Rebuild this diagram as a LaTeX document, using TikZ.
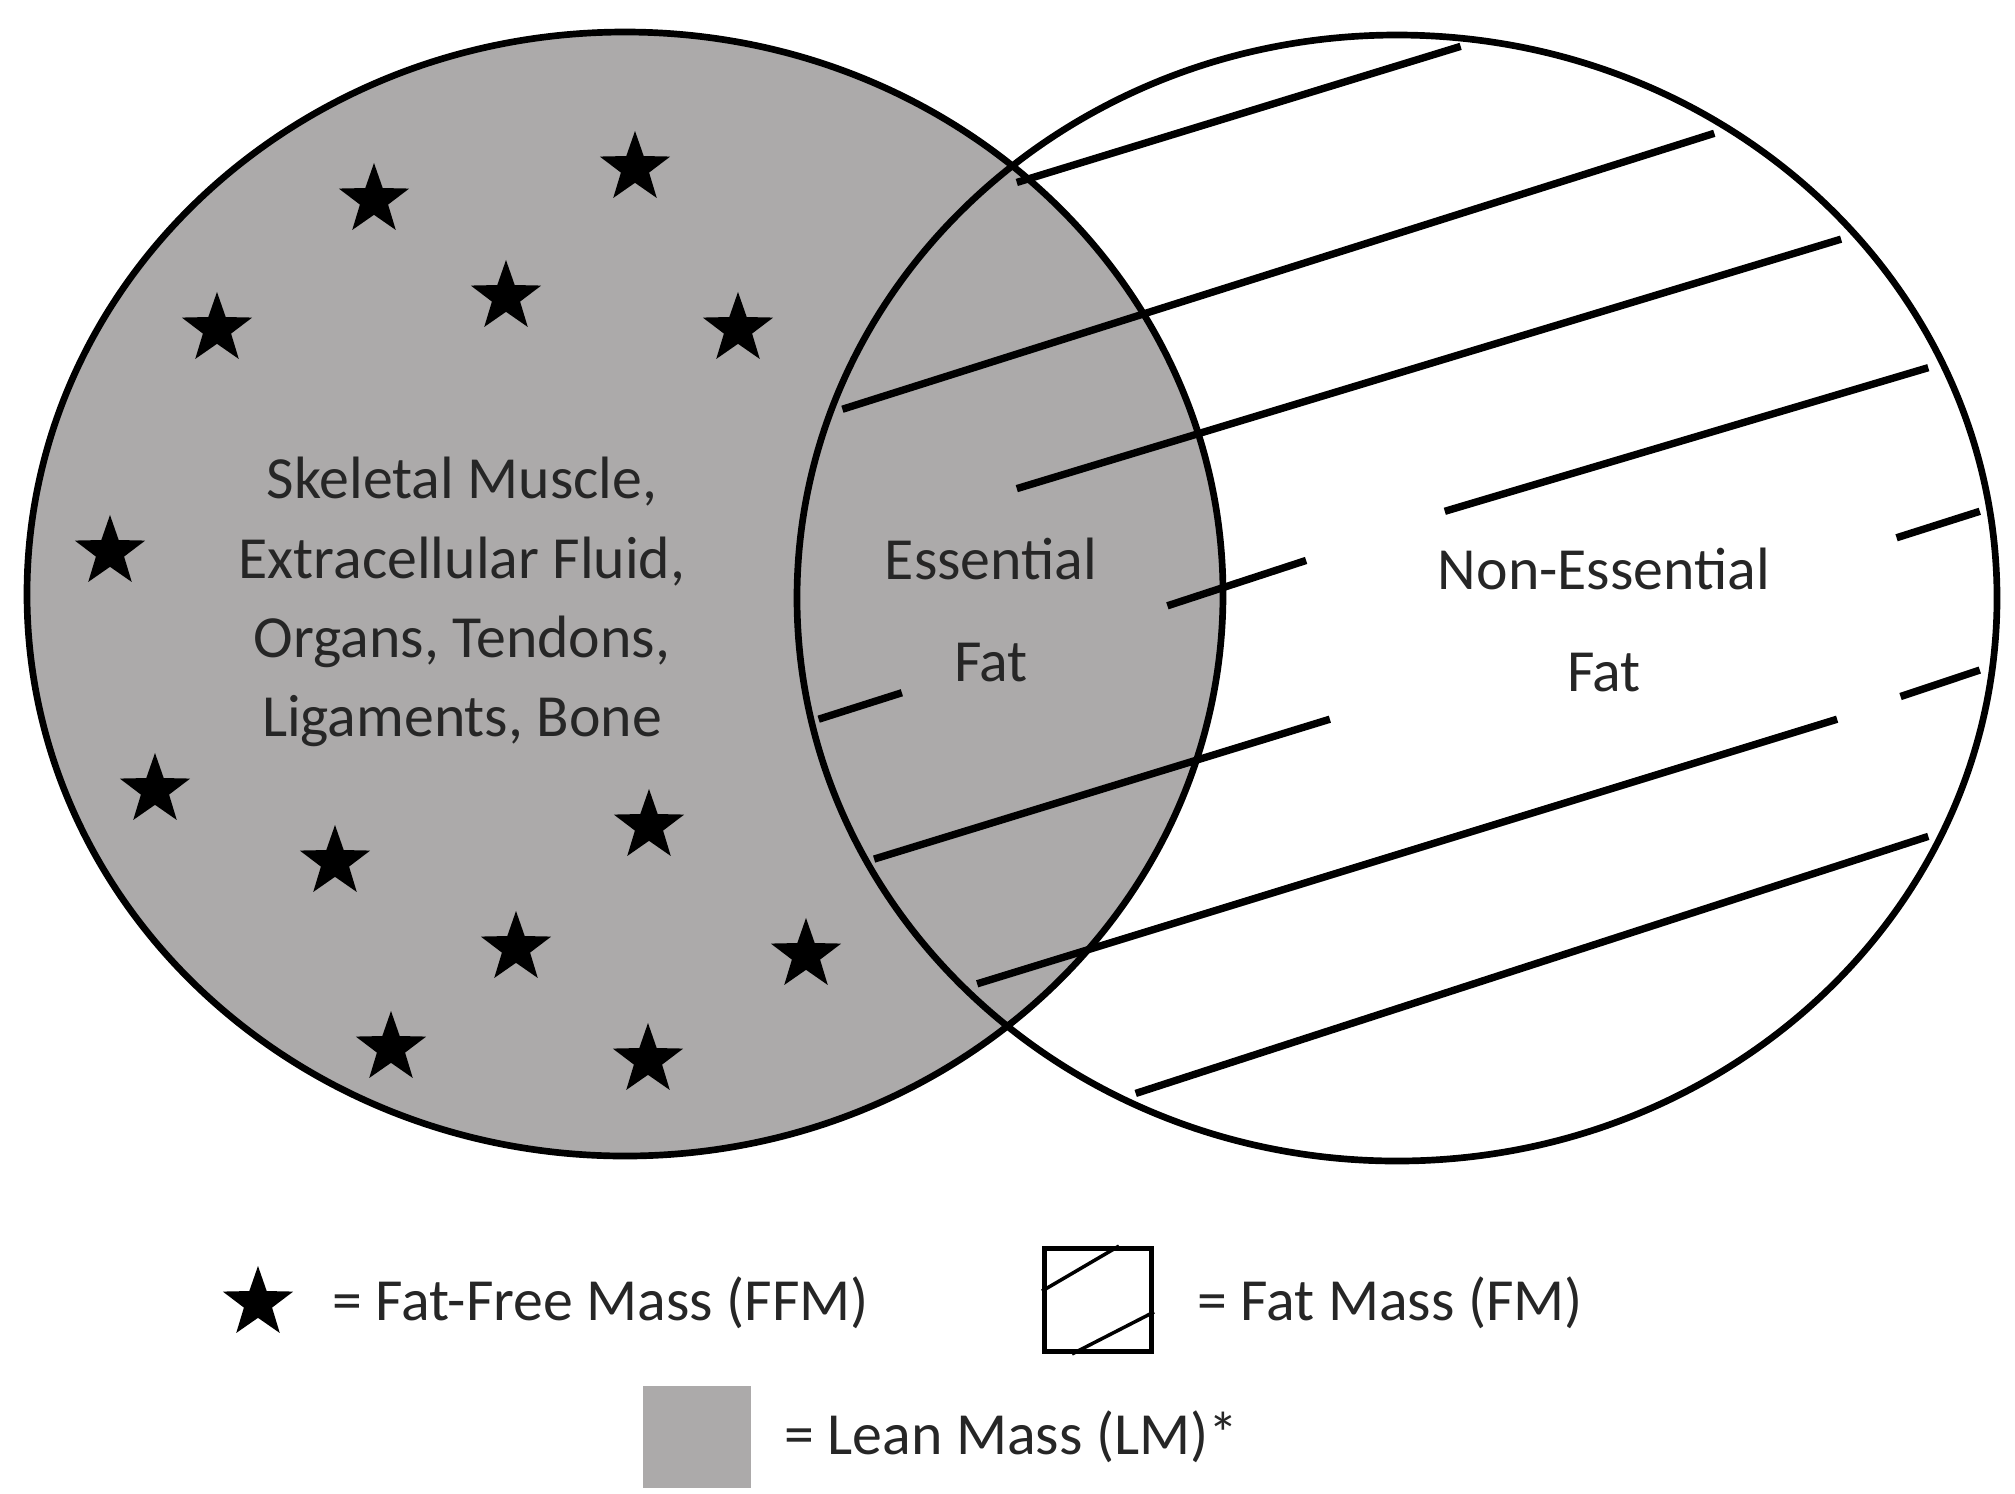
\documentclass[tikz,border=0pt]{standalone}
\usepackage{fontspec}
\setmainfont{Carlito}
\usetikzlibrary{shapes.geometric}
\definecolor{leangray}{RGB}{172,170,170}
\tikzset{
  ffm/.style={star, star points=5, star point ratio=2.5, fill=black, inner sep=0pt, minimum size=0.74cm},
  rim/.style={line width=1.9pt},
  hatch/.style={line width=2.1pt},
  lbl/.style={align=center, text=black!85, font=\fontsize{17}{22.5}\selectfont}
}
\begin{document}
\begin{tikzpicture}[x=0.01cm,y=-0.01cm]
    \useasboundingbox (0,0) rectangle (2015,1493);

    %lean mass
    \fill[leangray] (625,594) ellipse [x radius=598, y radius=562];

    %fat mass hatching
    \begin{scope}[shift={(779,1)}, xscale=0.7926, yscale=0.756]
        \foreach \xa/\ya/\xb/\yb in {300/240/860/60, 80/540/1180/175, 300/645/1340/315,
                           840/675/1450/485, 490/800/665/740, 1410/710/1515/675,
                           50/950/155/915, 1415/920/1515/885, 120/1135/695/950,
                           250/1300/1335/950, 450/1445/1450/1105}{
            \draw[hatch] (\xa,\ya) -- (\xb,\yb);
        }
    \end{scope}

    %circles
    \draw[rim] (625,594) ellipse [x radius=598, y radius=562];
    \draw[rim] (1397,598) ellipse [x radius=600, y radius=563];

    %stars
    \foreach \p [count=\i] in {(374,200),(635,168),(217,329),(506,297),(738,329),
                               (110,552),(155,790),(335,862),(649,826),(516,948),
                               (806,955),(391,1048),(648,1060)}{
        \node[ffm] (s\i) at \p {};
    }

    %labels
    \node[lbl] (lean) at (462,602) {Skeletal Muscle,\\Extracellular Fluid,\\Organs, Tendons,\\Ligaments, Bone};
    \node[lbl, font=\fontsize{17}{29}\selectfont] (ess) at (991,610) {Essential\\Fat};
    \node[lbl, font=\fontsize{17}{29}\selectfont] (noness) at (1604,620) {Non-Essential\\Fat};

    %legend
    \node[ffm] (kffm) at (258,1303) {};
    \node[lbl, anchor=west] (tffm) at (320,1303) {= Fat-Free Mass (FFM)};
    \node[draw, line width=1.4pt, minimum width=1.07cm, minimum height=1.03cm, inner sep=0pt] (kfm) at (1098,1300) {};
    \draw[line width=1pt] ([yshift=-0.45cm]kfm.north west) -- ([xshift=-0.35cm]kfm.north east);
    \draw[line width=1pt] ([xshift=0.3cm]kfm.south west) -- ([yshift=0.42cm]kfm.south east);
    \node[lbl, anchor=west] (tfm) at (1185,1303) {= Fat Mass (FM)};
    \node[fill=leangray, minimum width=1.08cm, minimum height=1.02cm, inner sep=0pt] (klm) at (697,1437) {};
    \node[lbl, anchor=west] (tlm) at (772,1437) {= Lean Mass (LM)*};
\end{tikzpicture}
\end{document}
